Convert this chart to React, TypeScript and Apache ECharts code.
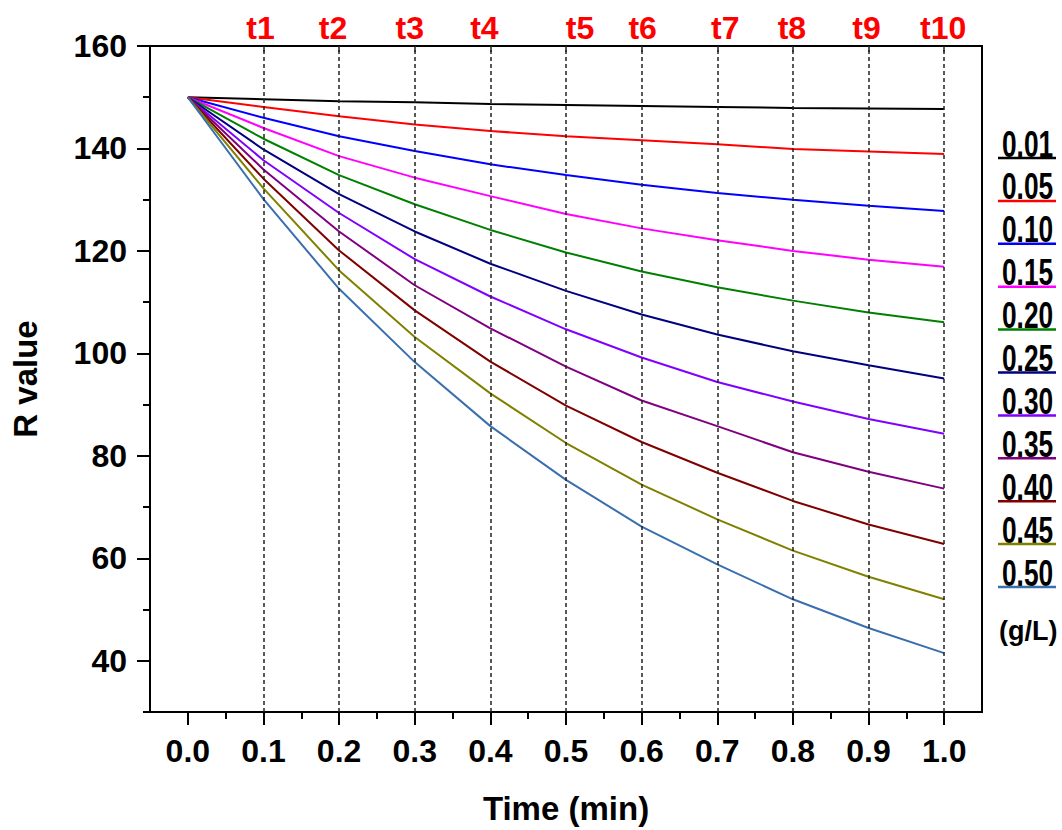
import React, { useEffect, useRef } from 'react';
import * as echarts from 'echarts';

// ---------- data ----------
const timeMin = [0, 0.1, 0.2, 0.3, 0.4, 0.5, 0.6, 0.7, 0.8, 0.9, 1.0];
const concLabels = ['0.01', '0.05', '0.10', '0.15', '0.20', '0.25', '0.30', '0.35', '0.40', '0.45', '0.50'];
const unitLabel = '(g/L)';

const r001 = [150, 149.6, 149.2, 149.0, 148.7, 148.5, 148.3, 148.1, 147.9, 147.8, 147.7];
const r005 = [150, 148.1, 146.3, 144.7, 143.4, 142.4, 141.6, 140.8, 139.9, 139.4, 138.9];
const r010 = [150, 146.0, 142.4, 139.5, 136.9, 134.8, 132.9, 131.3, 130.0, 128.8, 127.8];
const r015 = [150, 144.0, 138.5, 134.3, 130.7, 127.2, 124.4, 122.1, 120.0, 118.3, 116.9];
const r020 = [150, 141.9, 134.8, 129.1, 124.1, 119.7, 116.0, 112.9, 110.3, 108.0, 106.1];
const r025 = [150, 139.8, 131.1, 123.8, 117.5, 112.2, 107.6, 103.7, 100.4, 97.7, 95.1];
const r030 = [150, 137.7, 127.4, 118.4, 111.1, 104.7, 99.2, 94.4, 90.6, 87.2, 84.3];
const r035 = [150, 135.9, 123.8, 113.3, 104.9, 97.4, 90.8, 85.8, 80.7, 76.9, 73.6];
const r040 = [150, 134.1, 120.1, 108.4, 98.4, 89.8, 82.7, 76.7, 71.2, 66.6, 62.8];
const r045 = [150, 132.2, 116.2, 103.2, 92.2, 82.5, 74.4, 67.6, 61.5, 56.4, 52.0];
const r050 = [150, 130.1, 112.6, 98.3, 85.8, 75.3, 66.2, 58.8, 52.0, 46.4, 41.5];
const rSeries = [r001, r005, r010, r015, r020, r025, r030, r035, r040, r045, r050];

const xTickValues = [0, 0.1, 0.2, 0.3, 0.4, 0.5, 0.6, 0.7, 0.8, 0.9, 1.0];
const xMinorTickValues = [0.05, 0.15, 0.25, 0.35, 0.45, 0.55, 0.65, 0.75, 0.85, 0.95];
const yTickValues = [40, 60, 80, 100, 120, 140, 160];
const yMinorTickValues = [30, 50, 70, 90, 110, 130, 150];
const markTimes = [0.1, 0.2, 0.3, 0.4, 0.5, 0.6, 0.7, 0.8, 0.9, 1.0];
const markLabels = ['t1', 't2', 't3', 't4', 't5', 't6', 't7', 't8', 't9', 't10'];

// ---------- styles ----------
const COLORS = ['#000000', '#ff0000', '#0000ff', '#ff00ff', '#008000', '#000080', '#8000ff', '#800080', '#800000', '#808000', '#3a6fae'];
const FONT = '"Liberation Sans", Arial, Helvetica, sans-serif';
const tLabelNudge = [-3, -6, -5, -6, 14, 1, 8, -1, -2, -1];

export default function App() {
  const ref = useRef<HTMLDivElement>(null);

  useEffect(() => {
    if (!ref.current) return;
    const chart = echarts.init(ref.current, null, { renderer: 'svg' });

    const axisLineStyle = { color: '#000', width: 2 };
    const labelStyle = { color: '#000', fontSize: 32, fontWeight: 'bold' as const, fontFamily: FONT };

    const rich: Record<string, any> = {};
    markLabels.forEach((_, i) => {
      const d = tLabelNudge[i];
      rich['n' + i] = {
        color: '#ff0000',
        fontSize: 32,
        fontWeight: 'bold',
        fontFamily: FONT,
        padding: d >= 0 ? [0, 0, 0, 2 * d] : [0, -2 * d, 0, 0],
      };
    });

    const lineSeries = rSeries.map((arr, i) => ({
      type: 'line',
      name: concLabels[i],
      xAxisIndex: 0,
      yAxisIndex: 0,
      data: timeMin.map((t, j) => [t, arr[j]]),
      showSymbol: false,
      symbol: 'none',
      silent: true,
      z: 2,
      lineStyle: { color: COLORS[i], width: 2 },
      itemStyle: { color: COLORS[i] },
    }));

    const markSeries = {
      type: 'line',
      name: 'marks',
      xAxisIndex: 0,
      yAxisIndex: 0,
      data: [],
      silent: true,
      z: 5,
      markLine: {
        silent: true,
        symbol: ['none', 'none'],
        label: { show: false },
        lineStyle: { color: '#222', type: [4, 3], width: 1.5 },
        data: markTimes.map((t) => ({ xAxis: t })),
      },
    };

    const legendGraphics: any[] = [];
    concLabels.forEach((lab, i) => {
      const base = 157 + 42.9 * i;
      legendGraphics.push({
        type: 'text',
        x: 1002,
        y: base - 13,
        scaleX: 0.73,
        silent: true,
        style: {
          text: lab,
          fill: '#000',
          font: `bold 36px ${FONT}`,
          textAlign: 'left',
          textVerticalAlign: 'middle',
        },
      });
      legendGraphics.push({
        type: 'line',
        silent: true,
        shape: { x1: 998, y1: base + 1, x2: 1056, y2: base + 1 },
        style: { stroke: COLORS[i], lineWidth: 2.5 },
      });
    });
    legendGraphics.push({
      type: 'text',
      x: 999,
      y: 631,
      silent: true,
      style: {
        text: unitLabel,
        fill: '#000',
        font: `bold 27px ${FONT}`,
        textAlign: 'left',
        textVerticalAlign: 'middle',
      },
    });

    chart.setOption({
      animation: false,
      backgroundColor: '#fff',
      grid: {
        left: 150,
        top: 46,
        right: 80,
        bottom: 115,
        show: true,
        borderColor: '#000',
        borderWidth: 2,
        backgroundColor: 'transparent',
      },
      xAxis: [
        {
          type: 'value',
          min: -0.05,
          max: 1.05,
          position: 'bottom',
          axisLine: { show: true, onZero: false, lineStyle: axisLineStyle },
          axisTick: { show: true, customValues: xTickValues, length: 13, lineStyle: axisLineStyle },
          axisLabel: {
            customValues: xTickValues,
            formatter: (v: number) => v.toFixed(1),
            margin: 23,
            ...labelStyle,
          },
          splitLine: { show: false },
          name: 'Time (min)',
          nameLocation: 'middle',
          nameGap: 80,
          nameTextStyle: { ...labelStyle, fontSize: 33 },
        },
        {
          type: 'value',
          min: -0.05,
          max: 1.05,
          position: 'bottom',
          axisLine: { show: false, onZero: false },
          axisTick: { show: true, customValues: xMinorTickValues, length: 7, lineStyle: axisLineStyle },
          axisLabel: { show: false },
          splitLine: { show: false },
        },
        {
          type: 'value',
          min: -0.05,
          max: 1.05,
          position: 'top',
          axisLine: { show: true, onZero: false, lineStyle: axisLineStyle },
          axisTick: { show: true, inside: true, customValues: markTimes, length: 6, lineStyle: { color: '#222', width: 1.5 } },
          axisLabel: {
            customValues: markTimes,
            margin: 2,
            formatter: (v: number) => {
              const i = markTimes.findIndex((m) => Math.abs(m - v) < 1e-6);
              return i >= 0 ? `{n${i}|${markLabels[i]}}` : '';
            },
            rich,
            color: '#ff0000',
            fontSize: 32,
            fontWeight: 'bold',
            fontFamily: FONT,
          },
          splitLine: { show: false },
        },
      ],
      yAxis: [
        {
          type: 'value',
          min: 30,
          max: 160,
          position: 'left',
          axisLine: { show: true, onZero: false, lineStyle: axisLineStyle },
          axisTick: { show: true, customValues: yTickValues, length: 13, lineStyle: axisLineStyle },
          axisLabel: { customValues: yTickValues, margin: 23, ...labelStyle },
          splitLine: { show: false },
          name: 'R value',
          nameLocation: 'middle',
          nameGap: 108,
          nameTextStyle: { ...labelStyle, fontSize: 33 },
        },
        {
          type: 'value',
          min: 30,
          max: 160,
          position: 'left',
          axisLine: { show: false, onZero: false },
          axisTick: { show: true, customValues: yMinorTickValues, length: 7, lineStyle: axisLineStyle },
          axisLabel: { show: false },
          splitLine: { show: false },
        },
      ],
      series: [...lineSeries, markSeries],
      graphic: legendGraphics,
    });

    return () => chart.dispose();
  }, []);

  return (
    <div
      ref={ref}
      style={{ position: 'fixed', left: 0, top: 0, width: 1062, height: 830, background: '#fff' }}
    />
  );
}
